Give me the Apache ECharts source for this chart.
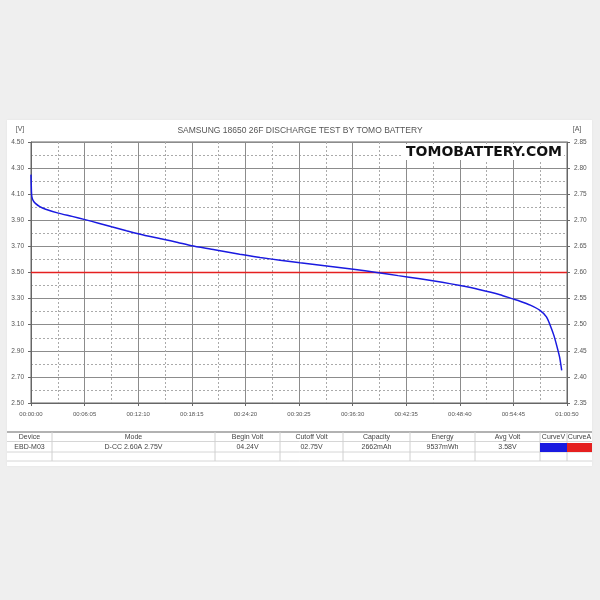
<!DOCTYPE html>
<html>
<head>
<meta charset="utf-8">
<script src="https://cdn.jsdelivr.net/npm/echarts@6/dist/echarts.min.js"></script>
<style>
  html, body { margin: 0; padding: 0; background: #efefef; }
  .card { position: absolute; left: 7px; top: 120px; width: 585px; height: 346px; background: #fff; box-shadow: 0 0 2px rgba(0,0,0,0.06); }
  #chart { position: absolute; left: 0; top: 0; width: 600px; height: 600px; }
</style>
</head>
<body>
<div class="card"></div>
<div id="chart"></div>
<script>
// discharge curve (time in seconds, volts)
var timeSec = [0, 3, 6, 15, 30, 60, 100, 186, 280, 368, 460, 549, 650, 765, 900, 1000, 1094, 1250, 1421, 1560, 1696, 1832, 2000, 2195, 2354, 2500, 2649, 2800, 2922, 3050, 3194, 3274, 3330, 3400, 3466, 3510, 3534, 3560, 3580, 3600, 3614];
var voltage = [4.25, 4.12, 4.08, 4.05, 4.03, 4.005, 3.985, 3.955, 3.93, 3.905, 3.878, 3.85, 3.82, 3.787, 3.755, 3.73, 3.705, 3.675, 3.639, 3.615, 3.594, 3.574, 3.552, 3.525, 3.50, 3.476, 3.452, 3.425, 3.40, 3.37, 3.33, 3.30, 3.28, 3.25, 3.21, 3.16, 3.10, 3.02, 2.94, 2.85, 2.75];
// discharge current (A)
var currentTime = [0, 3650];
var currentAmp = [2.6, 2.6];

var tableHeaders = ["Device", "Mode", "Begin Volt", "Cutoff Volt", "Capacity", "Energy", "Avg Volt", "CurveV", "CurveA"];
var tableValues = ["EBD-M03", "D-CC 2.60A 2.75V", "04.24V", "02.75V", "2662mAh", "9537mWh", "3.58V", "", ""];
var curveColors = ["#1a1ae0", "#e52020"];

var FONT = "Liberation Sans";

function hms(s) {
  var h = Math.floor(s / 3600), m = Math.floor((s % 3600) / 60), sec = Math.round(s % 60);
  function p(n) { return (n < 10 ? "0" : "") + n; }
  return p(h) + ":" + p(m) + ":" + p(sec);
}

var voltData = timeSec.map(function (t, i) { return [t, voltage[i]]; });
var ampData = currentTime.map(function (t, i) { return [t, currentAmp[i]]; });

// table below the plot
var colEdges = [7, 52, 215, 280, 343, 410, 475, 540, 567, 592];
var rowLines = [432, 441.5, 452, 461];
var tableEls = [];
rowLines.forEach(function (y, i) {
  tableEls.push({ type: "line", shape: { x1: 7, y1: y, x2: 592, y2: y },
    style: { stroke: i === 0 ? "#999" : "#d6d6d6", lineWidth: i === 0 ? 1.5 : 1 } });
});
for (var c = 1; c < colEdges.length - 1; c++) {
  tableEls.push({ type: "line", shape: { x1: colEdges[c], y1: 432, x2: colEdges[c], y2: 461 },
    style: { stroke: "#d0d0d0", lineWidth: 1 } });
}
tableHeaders.forEach(function (h, i) {
  var cx = (colEdges[i] + colEdges[i + 1]) / 2;
  tableEls.push({ type: "text", x: cx, y: 437, style: { text: h, fill: "#444", font: "7px " + FONT, align: "center", verticalAlign: "middle" } });
  if (tableValues[i]) {
    tableEls.push({ type: "text", x: cx, y: 447, style: { text: tableValues[i], fill: "#444", font: "7px " + FONT, align: "center", verticalAlign: "middle" } });
  }
});
curveColors.forEach(function (col, i) {
  tableEls.push({ type: "rect", shape: { x: colEdges[7 + i], y: 443, width: colEdges[8 + i] - colEdges[7 + i], height: 9 },
    style: { fill: col } });
});

var chart = echarts.init(document.getElementById("chart"));
chart.setOption({
  backgroundColor: "transparent",
  animation: false,
  title: {
    text: "SAMSUNG 18650 26F DISCHARGE TEST BY TOMO BATTERY",
    left: "center",
    top: 121,
    textStyle: { fontFamily: FONT, fontSize: 8.5, fontWeight: "normal", color: "#555" }
  },
  grid: {
    left: 31, top: 142, right: 33, bottom: 197,
    show: true, borderColor: "#666", borderWidth: 1, backgroundColor: "#fff"
  },
  xAxis: {
    type: "value",
    min: 0, max: 3650, interval: 365,
    axisLine: { show: true, lineStyle: { color: "#666" } },
    axisTick: { show: true, length: 3, lineStyle: { color: "#666" } },
    axisLabel: { color: "#555", fontFamily: FONT, fontSize: 6, margin: 8, formatter: hms },
    splitLine: { show: true, lineStyle: { color: "#8c8c8c", width: 1 } },
    minorTick: { show: false, splitNumber: 2 },
    minorSplitLine: { show: true, lineStyle: { color: "#aaa", type: [2, 2], width: 1 } }
  },
  yAxis: [
    {
      type: "value",
      min: 2.5, max: 4.5, interval: 0.2,
      axisLine: { show: true, lineStyle: { color: "#666" } },
      axisTick: { show: true, length: 3, lineStyle: { color: "#666" } },
      axisLabel: { color: "#555", fontFamily: FONT, fontSize: 6.5, margin: 7, formatter: function (v) { return v.toFixed(2); } },
      splitLine: { show: true, lineStyle: { color: "#8c8c8c", width: 1 } },
      minorTick: { show: false, splitNumber: 2 },
      minorSplitLine: { show: true, lineStyle: { color: "#aaa", type: [2, 2], width: 1 } }
    },
    {
      type: "value",
      position: "right",
      min: 2.35, max: 2.85, interval: 0.05,
      axisLine: { show: true, lineStyle: { color: "#666" } },
      axisTick: { show: true, length: 3, lineStyle: { color: "#666" } },
      axisLabel: { color: "#555", fontFamily: FONT, fontSize: 6.5, margin: 7, formatter: function (v) { return v.toFixed(2); } },
      splitLine: { show: false }
    }
  ],
  graphic: [
    { type: "text", x: 20, y: 129, style: { text: "[V]", fill: "#555", font: "7px " + FONT, align: "center", verticalAlign: "middle" } },
    { type: "text", x: 577, y: 129, style: { text: "[A]", fill: "#555", font: "7px " + FONT, align: "center", verticalAlign: "middle" } },
    { type: "text", x: 564, y: 152, z: 100,
      style: { text: "TOMOBATTERY.COM", fill: "#111", font: "bold 14px 'DejaVu Sans'", align: "right", verticalAlign: "middle",
        backgroundColor: "#fff", padding: [1, 2, 1, 4] } }
  ].concat(tableEls),
  series: [
    {
      name: "CurveA", type: "line", yAxisIndex: 1, data: ampData,
      showSymbol: false, lineStyle: { color: curveColors[1], width: 1.5 }, z: 3
    },
    {
      name: "CurveV", type: "line", yAxisIndex: 0, data: voltData,
      showSymbol: false, smooth: 0.2, lineStyle: { color: curveColors[0], width: 1.5 }, z: 4
    }
  ]
});
</script>
</body>
</html>
